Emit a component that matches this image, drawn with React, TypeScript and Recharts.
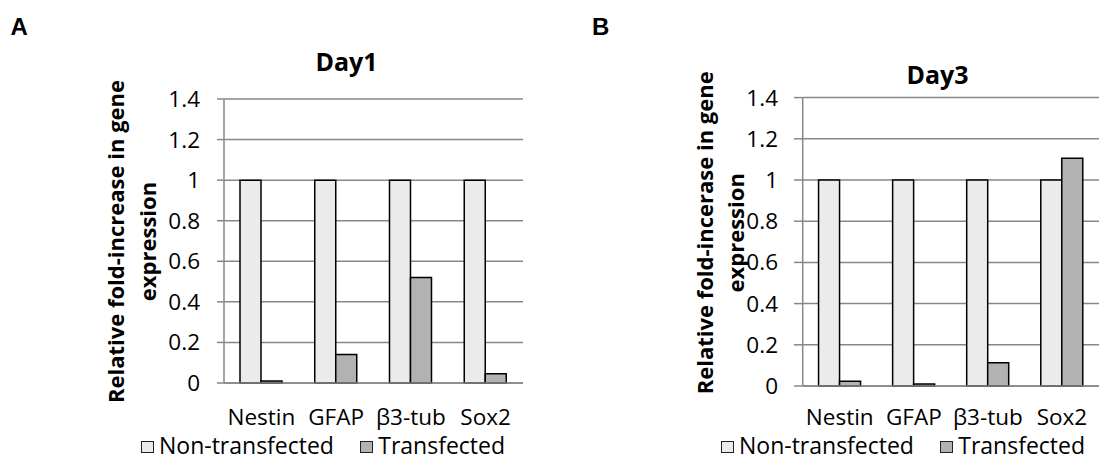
import React from 'react';
import { BarChart, Bar, XAxis, YAxis, CartesianGrid, Legend } from 'recharts';

// gene markers on the x axis
const genes = ['Nestin', 'GFAP', 'β3-tub', 'Sox2'];
const seriesNames = ['Non-transfected', 'Transfected'];

// fold change vs. non-transfected control
const day1NonTransfected = [1, 1, 1, 1];
const day1Transfected = [0.01, 0.14, 0.52, 0.045];
const day3NonTransfected = [1, 1, 1, 1];
const day3Transfected = [0.023, 0.01, 0.113, 1.105];

const yTicks = [0, 0.2, 0.4, 0.6, 0.8, 1, 1.2, 1.4];
const edgeTicks = [0, 1, 2, 3, 4];

const FONT = '"Open Sans", sans-serif';
const GRID = '#878787';
const FILL_NT = '#ebebeb';
const FILL_T = '#b2b2b2';

const toRows = (nt: number[], t: number[]) =>
  genes.map((gene, i) => ({ gene, nt: nt[i], t: t[i] }));

interface YLabelProps {
  viewBox?: any;
  lines: string[];
  firstDx: number;
  secondDx: number;
  dy: number;
}

const YLabel = ({ viewBox, lines, firstDx, secondDx, dy }: YLabelProps) => {
  if (!viewBox) return null;
  const right = viewBox.x + viewBox.width;
  const cy = viewBox.y + viewBox.height / 2 + dy;
  return (
    <g>
      {lines.map((line, i) => {
        const cx = right + (i === 0 ? firstDx : secondDx);
        return (
          <text
            key={line}
            x={cx}
            y={cy}
            transform={`rotate(-90, ${cx}, ${cy})`}
            textAnchor="middle"
            fontFamily={FONT}
            fontWeight={700}
            fontSize={22}
            fill="#000"
          >
            {line}
          </text>
        );
      })}
    </g>
  );
};

const LegendContent = () => (
  <div
    style={{
      display: 'flex',
      alignItems: 'center',
      fontFamily: FONT,
      fontSize: 23,
      lineHeight: '26px',
      color: '#000',
      whiteSpace: 'nowrap',
    }}
  >
    {seriesNames.map((name, i) => (
      <span key={name} style={{ display: 'flex', alignItems: 'center', marginLeft: i ? 26 : 0 }}>
        <span
          style={{
            display: 'inline-block',
            width: 11.3,
            height: 10,
            background: i ? FILL_T : FILL_NT,
            border: '1.5px solid #222',
            marginRight: 5,
            marginTop: 4,
          }}
        />
        {name}
      </span>
    ))}
  </div>
);

interface PanelProps {
  letter: string;
  letterX: number;
  title: string;
  titleX: number;
  titleTop: number;
  left: number;
  width: number;
  margin: { top: number; right: number; bottom: number; left: number };
  rows: { gene: string; nt: number; t: number }[];
  yLines: string[];
  firstDx: number;
  secondDx: number;
  labelDy: number;
  yTickSize: number;
  yTickMargin: number;
  xTickMargin: number;
  legendX: number;
}

const Panel = (p: PanelProps) => (
  <div style={{ position: 'absolute', left: p.left, top: 0, width: p.width, height: 461 }}>
    <div
      style={{
        position: 'absolute',
        left: p.letterX,
        top: 14.7,
        fontFamily: '"Liberation Sans", Arial, sans-serif',
        fontWeight: 700,
        fontSize: 24,
        lineHeight: '24px',
      }}
    >
      {p.letter}
    </div>
    <div
      style={{
        position: 'absolute',
        left: p.titleX - 100,
        width: 200,
        top: p.titleTop,
        textAlign: 'center',
        fontFamily: FONT,
        fontWeight: 700,
        fontSize: 25,
        lineHeight: '30px',
      }}
    >
      {p.title}
    </div>
    <BarChart
      width={p.width}
      height={461}
      data={p.rows}
      margin={p.margin}
      barCategoryGap="21.4%"
      barGap={0}
    >
      <CartesianGrid vertical={false} stroke={GRID} strokeWidth={1.5} />
      <XAxis
        dataKey="gene"
        height={1}
        interval={0}
        tickLine={false}
        tickSize={0}
        tickMargin={p.xTickMargin}
        axisLine={{ stroke: GRID, strokeWidth: 1.5 }}
        tick={{ fill: '#000', fontFamily: FONT, fontSize: 22.5 }}
      />
      <XAxis
        xAxisId="edges"
        type="number"
        domain={[0, 4]}
        ticks={edgeTicks}
        allowDataOverflow
        height={1}
        tick={false}
        tickSize={8}
        tickLine={{ stroke: GRID, strokeWidth: 1.5 }}
        axisLine={false}
      />
      <YAxis
        width={60}
        domain={[0, 1.4]}
        ticks={yTicks}
        interval={0}
        tickSize={p.yTickSize}
        tickMargin={p.yTickMargin}
        tickLine={{ stroke: GRID, strokeWidth: 1.5 }}
        axisLine={{ stroke: GRID, strokeWidth: 1.5 }}
        tick={{ fill: '#000', fontFamily: FONT, fontSize: 22.5 }}
        label={
          <YLabel
            lines={p.yLines}
            firstDx={p.firstDx}
            secondDx={p.secondDx}
            dy={p.labelDy}
          />
        }
      />
      <Legend
        layout="horizontal"
        verticalAlign="middle"
        align="center"
        wrapperStyle={{ left: p.legendX, top: 432.1, width: 'auto' }}
        content={<LegendContent />}
      />
      <Bar
        dataKey="nt"
        name={seriesNames[0]}
        fill={FILL_NT}
        stroke="#000"
        strokeWidth={1.5}
        isAnimationActive={false}
      />
      <Bar
        dataKey="t"
        name={seriesNames[1]}
        fill={FILL_T}
        stroke="#000"
        strokeWidth={1.5}
        isAnimationActive={false}
      />
    </BarChart>
  </div>
);

export default function App() {
  return (
    <div
      style={{
        position: 'absolute',
        left: 0,
        top: 0,
        width: 1099,
        height: 461,
        overflow: 'hidden',
        background: '#fff',
      }}
    >
      <Panel
        letter="A"
        letterX={10.5}
        title="Day1"
        titleX={346.5}
        titleTop={46.3}
        left={0}
        width={550}
        margin={{ top: 99, right: 27, bottom: 76, left: 164 }}
        rows={toRows(day1NonTransfected, day1Transfected)}
        yLines={['Relative fold-increase in gene', 'expression']}
        firstDx={-100}
        secondDx={-68}
        labelDy={0.5}
        yTickSize={7}
        yTickMargin={17}
        xTickMargin={26}
        legendX={140.7}
      />
      <Panel
        letter="B"
        letterX={42}
        title="Day3"
        titleX={387.5}
        titleTop={59}
        left={550}
        width={549}
        margin={{ top: 97.6, right: 0, bottom: 73, left: 192.7 }}
        rows={toRows(day3NonTransfected, day3Transfected)}
        yLines={['Relative fold-incerase in gene', 'expression']}
        firstDx={-90}
        secondDx={-58.7}
        labelDy={-9}
        yTickSize={8.7}
        yTickMargin={16}
        xTickMargin={23}
        legendX={170.7}
      />
    </div>
  );
}
